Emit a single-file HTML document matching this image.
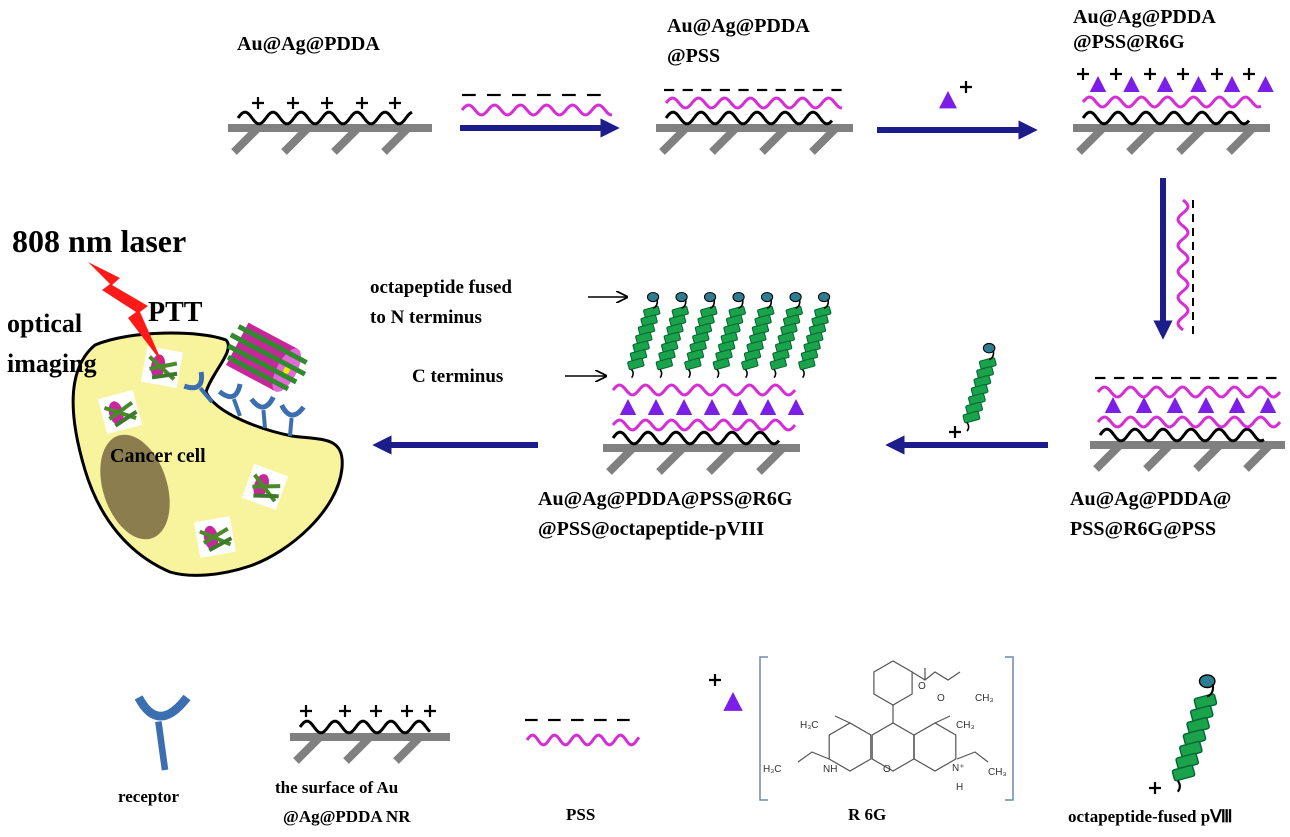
<!DOCTYPE html>
<html><head><meta charset="utf-8"><style>
html,body{margin:0;padding:0;background:#fff;}
svg{display:block;}
text{font-family:"Liberation Serif",serif;font-weight:bold;fill:#000;}
.chem{font-family:"Liberation Sans",sans-serif;font-weight:normal;font-size:10px;fill:#333;}
</style></head><body>
<svg id="fig" width="1290" height="837" viewBox="0 0 1290 837" xmlns="http://www.w3.org/2000/svg">
<defs>
<marker id="ah" viewBox="0 0 10 10" refX="6" refY="5" markerWidth="3.2" markerHeight="3.2" orient="auto"><path d="M0,0 L10,5 L0,10 z" fill="#1c1c8a"/></marker>
<marker id="ak" viewBox="0 0 10 10" refX="9" refY="5" markerWidth="8" markerHeight="8" orient="auto"><path d="M0,0 L10,5 L0,10" fill="none" stroke="#000" stroke-width="1.5"/></marker>
</defs>

<!-- cell -->
<path d="M95,345 C130,330 200,330 226,340 C236,350 212,372 206,392 C216,414 262,430 292,436 C322,440 345,436 342,468 C338,510 290,552 250,566 C220,576 190,578 170,572 C130,555 100,520 85,470 C70,420 65,370 95,345 Z" fill="#f8f49e" stroke="#000" stroke-width="3"/>
<ellipse cx="135" cy="487" rx="32" ry="54" transform="rotate(-18 135 487)" fill="#8c7d4e"/>
<g id="dyn"></g>

<!-- labels -->
<text x="237" y="50" font-size="20">Au@Ag@PDDA</text>
<text x="667" y="32" font-size="20">Au@Ag@PDDA</text>
<text x="667" y="62" font-size="20">@PSS</text>
<text x="1073" y="23" font-size="20">Au@Ag@PDDA</text>
<text x="1073" y="48" font-size="20">@PSS@R6G</text>
<text x="1070" y="505" font-size="20">Au@Ag@PDDA@</text>
<text x="1070" y="535" font-size="20">PSS@R6G@PSS</text>
<text x="538" y="505" font-size="20">Au@Ag@PDDA@PSS@R6G</text>
<text x="538" y="535" font-size="20">@PSS@octapeptide-pVIII</text>
<text x="370" y="293" font-size="19">octapeptide fused</text>
<text x="370" y="323" font-size="19">to N terminus</text>
<text x="412" y="382" font-size="19">C terminus</text>
<line x1="588" y1="297" x2="627" y2="297" stroke="#000" stroke-width="1.5" marker-end="url(#ak)"/>
<line x1="565" y1="376" x2="606" y2="376" stroke="#000" stroke-width="1.5" marker-end="url(#ak)"/>

<text x="110" y="462" font-size="20">Cancer cell</text>
<polygon points="88,262 120,278 112,285 148,306 140,312 163,364 128,318 136,312 102,290 110,284" fill="#ff1a1a"/>
<text x="12" y="252" font-size="32">808 nm laser</text>
<text x="148" y="321" font-size="28">PTT</text>
<text x="7" y="332" font-size="26">optical</text>
<text x="7" y="372" font-size="26">imaging</text>

<!-- bottom legend -->
<text x="118" y="802" font-size="17">receptor</text>
<text x="275" y="793" font-size="17">the surface of Au</text>
<text x="283" y="822" font-size="17">@Ag@PDDA NR</text>
<text x="566" y="820" font-size="17">PSS</text>
<text x="848" y="820" font-size="17">R 6G</text>
<text x="1068" y="822" font-size="17">octapeptide-fused pⅧ</text>
<path d="M768,657 H760 V800 H768" fill="none" stroke="#6a8ab0" stroke-width="1.5"/>
<path d="M1005,657 H1013 V800 H1005" fill="none" stroke="#6a8ab0" stroke-width="1.5"/>
<g id="chem" stroke="#555" stroke-width="1.2" fill="none"></g>
<text class="chem" x="800" y="728">H₃C</text>
<text class="chem" x="956" y="728">CH₃</text>
<text class="chem" x="763" y="772">H₃C</text>
<text class="chem" x="823" y="772">NH</text>
<text class="chem" x="883" y="772">O</text>
<text class="chem" x="952" y="771">N⁺</text>
<text class="chem" x="956" y="790">H</text>
<text class="chem" x="988" y="775">CH₃</text>
<text class="chem" x="918" y="689">O</text>
<text class="chem" x="937" y="701">O</text>
<text class="chem" x="975" y="701">CH₃</text>
</svg>
<script>
const g=document.getElementById('dyn');
let out='';
function wave(x1,x2,y,col,w,amp,per){let d='M'+x1+','+y;for(let x=x1;x<=x2;x+=2){d+=' L'+x+','+(y-amp*Math.sin((x-x1)/per*2*Math.PI)).toFixed(1);}return '<path d="'+d+'" fill="none" stroke="'+col+'" stroke-width="'+w+'"/>';}
function vwave(x,y1,y2,col,w,amp,per){let d='M'+x+','+y1;for(let y=y1;y<=y2;y+=2){d+=' L'+(x+amp*Math.sin((y-y1)/per*2*Math.PI)).toFixed(1)+','+y;}return '<path d="'+d+'" fill="none" stroke="'+col+'" stroke-width="'+w+'"/>';}
function substrate(x1,x2,y){let s='<g><rect x="'+x1+'" y="'+(y-4)+'" width="'+(x2-x1)+'" height="8" fill="#808080"/>';for(let x=x1+30;x<x2;x+=50){s+='<line x1="'+x+'" y1="'+y+'" x2="'+(x-24)+'" y2="'+(y+24)+'" stroke="#808080" stroke-width="8"/>';}s+=wave(x1+10,x2-20,y-10,'#000',3,6,28)+'</g>';return s;}
function plus(x,y,s){return '<path d="M'+(x-s)+','+y+' H'+(x+s)+' M'+x+','+(y-s)+' V'+(y+s)+'" stroke="#000" stroke-width="2.2"/>';}
function pluses(xs,y,s){return xs.map(x=>plus(x,y,s)).join('');}
function dashes(x1,x2,y,n){let s='';const st=(x2-x1)/n;for(let i=0;i<n;i++){const a=x1+i*st;s+='<line x1="'+a+'" y1="'+y+'" x2="'+(a+st*0.55)+'" y2="'+y+'" stroke="#000" stroke-width="2.2"/>';}return s;}
function tri(x,y,s){return '<polygon points="'+x+','+(y-s)+' '+(x+s*0.75)+','+(y+s*0.45)+' '+(x-s*0.75)+','+(y+s*0.45)+'" fill="#7a1ee8"/>';}
function tris(x1,n,st,y,s){let r='';for(let i=0;i<n;i++)r+=tri(x1+i*st,y,s);return r;}
function arrow(x1,y1,x2,y2){return '<line x1="'+x1+'" y1="'+y1+'" x2="'+x2+'" y2="'+y2+'" stroke="#1c1c8a" stroke-width="6" marker-end="url(#ah)"/>';}
function peptide(x,y,sc){sc=sc||1;let s='<g transform="translate('+x+','+y+') scale('+sc+')">';for(let i=0;i<7;i++){s+='<rect x="'+(-i*2.6-6)+'" y="'+(14+i*8.5)+'" width="15" height="8" rx="1.5" transform="rotate(-15 '+(-i*2.6)+' '+(17+i*8.5)+')" fill="#1aa34a" stroke="#063" stroke-width="1"/>';}s+='<ellipse cx="3" cy="3" rx="5.5" ry="4.5" fill="#2d7d92" stroke="#000" stroke-width="1"/><path d="M7,5 Q8,12 3,14" stroke="#000" fill="none" stroke-width="1.5"/><path d="M-18,74 q3,4 0,8" stroke="#000" fill="none" stroke-width="1.5"/></g>';return s;}
// step 1
out+=substrate(228,432,128)+pluses([258,293,327,362,395],103,6);
out+=arrow(460,128,612,128)+dashes(462,612,95,6)+wave(462,612,110,'#d62ed6',3,5,26);
// step 2
out+=substrate(656,853,128)+wave(666,843,103,'#d62ed6',3,5,26)+dashes(664,850,90,10);
out+=arrow(877,130,1030,130)+tri(948,103,12)+pluses([966],87,6);
// step 3
out+=substrate(1073,1270,128)+wave(1083,1262,102,'#d62ed6',3,5,26)+tris(1098,6,33.5,87,11)+pluses([1083,1116,1150,1183,1217,1249],74,6);
out+=arrow(1163,178,1163,332)+vwave(1183,200,330,'#d62ed6',3,5,26);
for(let y=200;y<330;y+=14)out+='<line x1="1193" y1="'+y+'" x2="1193" y2="'+(y+8)+'" stroke="#000" stroke-width="2"/>';
// step 4
out+=substrate(1090,1285,445)+wave(1098,1280,422,'#d62ed6',3,5,26)+tris(1113,6,31,408,11)+wave(1098,1280,392,'#d62ed6',3,5,26)+dashes(1095,1285,378,10);
out+=arrow(1048,445,893,445)+peptide(986,345,1.05)+pluses([955],432,6);
// step 5
out+=substrate(603,800,448)+wave(613,795,425,'#d62ed6',3,5,26)+tris(628,7,28,410,11)+wave(613,795,390,'#d62ed6',3,5,26);
for(let i=0;i<7;i++)out+=peptide(650+i*28.5,294,1.02);
out+=arrow(538,445,380,445);
// particles in cell
function np(x,y,s,r){return '<g transform="translate('+x+','+y+') rotate('+r+') scale('+s+')"><rect x="-18" y="-18" width="36" height="36" fill="#fff"/><ellipse cx="-4" cy="0" rx="7" ry="12" fill="#c8279c"/><line x1="-14" y1="-8" x2="14" y2="10" stroke="#4a8a2a" stroke-width="4"/><line x1="-12" y1="4" x2="14" y2="-6" stroke="#4a8a2a" stroke-width="4"/><line x1="-8" y1="12" x2="16" y2="4" stroke="#3a7a2a" stroke-width="4"/></g>';}
out+=np(162,367,1,10)+np(120,412,1,-15)+np(265,487,1,20)+np(215,537,1,-10);
out+='<g transform="translate(262,357) rotate(28)"><rect x="-28" y="-24" width="56" height="48" fill="#c8279c"/><ellipse cx="28" cy="0" rx="10" ry="24" fill="#e36ad6"/><ellipse cx="28" cy="0" rx="3" ry="5" fill="#ee0"/><line x1="-35" y1="-16" x2="42" y2="-16" stroke="#2e8b2e" stroke-width="5"/><line x1="-38" y1="-5" x2="46" y2="-5" stroke="#2e8b2e" stroke-width="5"/><line x1="-35" y1="6" x2="42" y2="6" stroke="#2e8b2e" stroke-width="5"/><line x1="-30" y1="16" x2="38" y2="16" stroke="#2e8b2e" stroke-width="5"/></g>';
function receptor(x,y,r,s){s=s||1;return '<g transform="translate('+x+','+y+') rotate('+r+') scale('+s+')"><line x1="0" y1="0" x2="0" y2="-18" stroke="#3c6fb0" stroke-width="4"/><path d="M-11,-30 Q0,-12 11,-30" stroke="#3c6fb0" stroke-width="5" fill="none"/></g>';}
out+=receptor(212,402,-40)+receptor(240,416,-20)+receptor(265,428,-5)+receptor(290,436,5);
// bottom legend
out+='<g transform="translate(165,770) scale(2.2)"><line x1="0" y1="0" x2="-3" y2="-22" stroke="#3c6fb0" stroke-width="3"/><path d="M-12,-33 Q-3,-16 10,-33" stroke="#3c6fb0" stroke-width="4" fill="none"/></g>';
out+=substrate(290,450,737)+pluses([306,345,376,407,430],711,6);
out+=dashes(525,640,720,5)+wave(527,640,740,'#d62ed6',3,5,22);
out+=tri(733,705,13)+pluses([715],680,6);
out+=peptide(1203,677,1.4)+pluses([1155],788,6);
g.innerHTML=out;
// chem structure
let c='';
function hex(cx,cy,r){let p=[];for(let i=0;i<6;i++){const a=Math.PI/6+i*Math.PI/3;p.push((cx+r*Math.cos(a)).toFixed(1)+','+(cy+r*Math.sin(a)).toFixed(1));}return '<polygon points="'+p.join(' ')+'"/>';}
c+=hex(850,747,24)+hex(893,747,24)+hex(935,747,24)+hex(893,683,22);
c+='<path d="M893,723 V705 M912,672 L925,680 L935,672 L948,680 L960,672 M925,680 V668 M850,723 L835,716 M935,723 L950,716 M829,759 L812,752 L798,762 M957,759 L975,752 L988,762"/>';
document.getElementById('chem').innerHTML=c;
</script>
</body></html>
